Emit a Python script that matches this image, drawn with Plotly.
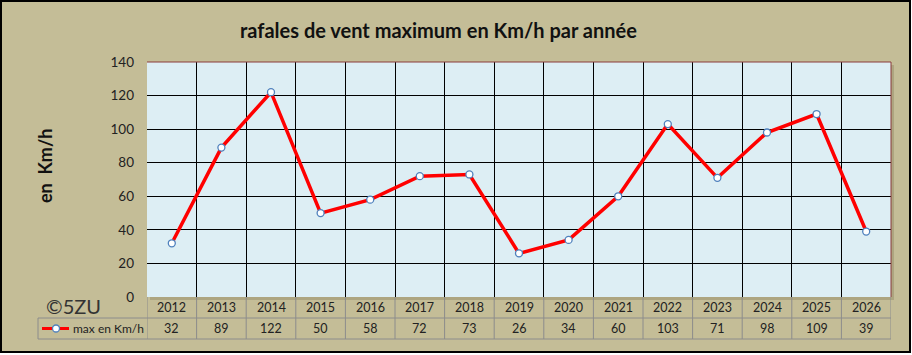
import plotly.graph_objects as go

years = ["2012", "2013", "2014", "2015", "2016", "2017", "2018", "2019",
         "2020", "2021", "2022", "2023", "2024", "2025", "2026"]
values = [32, 89, 122, 50, 58, 72, 73, 26, 34, 60, 103, 71, 98, 109, 39]
y_ticks = [0, 20, 40, 60, 80, 100, 120, 140]
title = "rafales de vent maximum en Km/h par année"
y_title = "en  Km/h"
series_name = "max en Km/h"

W, H = 912, 355
TAN = "#C4BD97"
PLOT_BG = "#DDEEF4"
GRID_TBL = "#8C8C8C"

# observed paper mapping in renderer: paper y in [0,1] -> pixels [347, 8]
PTOP, PH = 8, 339

x0px, x1px = 147, 891
ytop, ybot = 62, 297
row1, row2 = 318, 339


def px_x(p):
    return p / W


def px_y(p):
    return 1 - (p - PTOP) / PH


idx = list(range(len(years)))

fig = go.Figure()
fig.add_trace(go.Scatter(
    x=idx, y=values, mode="lines+markers", name=series_name,
    line=dict(color="#FF0000", width=3.5),
    marker=dict(symbol="circle", size=7, color="white",
                line=dict(color="#4F81BD", width=1.3)),
    showlegend=False, hoverinfo="skip",
))

shapes = []
# outer frame
shapes.append(dict(type="rect", xref="paper", yref="paper",
                   x0=px_x(1), x1=px_x(910), y0=px_y(352), y1=px_y(1),
                   fillcolor=TAN, line=dict(color="black", width=2), layer="below"))
# plot area shadow
shapes.append(dict(type="rect", xref="paper", yref="paper",
                   x0=px_x(x0px + 3), x1=px_x(x1px + 3), y0=px_y(ybot + 3), y1=px_y(ytop + 3),
                   fillcolor="rgba(90,80,50,0.22)", line=dict(width=0), layer="below"))
# plot background
shapes.append(dict(type="rect", xref="paper", yref="paper",
                   x0=px_x(x0px), x1=px_x(x1px), y0=px_y(ybot), y1=px_y(ytop),
                   fillcolor=PLOT_BG, line=dict(width=0), layer="below"))
# plot border top/right dark red
shapes.append(dict(type="line", xref="paper", yref="paper",
                   x0=px_x(x0px), x1=px_x(x1px), y0=px_y(ytop), y1=px_y(ytop),
                   line=dict(color="#8B3A3A", width=1)))
shapes.append(dict(type="line", xref="paper", yref="paper",
                   x0=px_x(x1px), x1=px_x(x1px), y0=px_y(ybot), y1=px_y(ytop),
                   line=dict(color="#8B3A3A", width=1)))

# data table lines
for k in range(len(years) + 1):
    xb = k - 0.5
    shapes.append(dict(type="line", xref="x", yref="paper",
                       x0=xb, x1=xb, y0=px_y(row2), y1=px_y(ybot),
                       line=dict(color=GRID_TBL, width=1)))
for yy in (row1, row2):
    shapes.append(dict(type="line", xref="paper", yref="paper",
                       x0=px_x(38), x1=px_x(x1px), y0=px_y(yy), y1=px_y(yy),
                       line=dict(color=GRID_TBL, width=1)))
shapes.append(dict(type="line", xref="paper", yref="paper",
                   x0=px_x(38), x1=px_x(38), y0=px_y(row2), y1=px_y(row1),
                   line=dict(color=GRID_TBL, width=1)))
# legend key
shapes.append(dict(type="line", xref="paper", yref="paper",
                   x0=px_x(42), x1=px_x(69), y0=px_y(328.5), y1=px_y(328.5),
                   line=dict(color="#FF0000", width=3)))
shapes.append(dict(type="circle", xref="paper", yref="paper",
                   x0=px_x(52.5), x1=px_x(59.5), y0=px_y(332), y1=px_y(325),
                   fillcolor="white", line=dict(color="#4F81BD", width=1.3)))

annotations = []
FONT = "Lato"
TXT = "#222222"
for i, (yr, v) in enumerate(zip(years, values)):
    annotations.append(dict(x=i, y=px_y(307.5), xref="x", yref="paper",
                            text=yr, showarrow=False,
                            font=dict(family=FONT, size=12.5, color=TXT),
                            xanchor="center", yanchor="middle"))
    annotations.append(dict(x=i, y=px_y(328.5), xref="x", yref="paper",
                            text=str(v), showarrow=False,
                            font=dict(family=FONT, size=12.5, color=TXT),
                            xanchor="center", yanchor="middle"))
annotations.append(dict(x=px_x(71), y=px_y(328.5), xref="paper", yref="paper",
                        text=series_name, showarrow=False,
                        font=dict(family=FONT, size=12, color=TXT),
                        xanchor="left", yanchor="middle"))
annotations.append(dict(x=px_x(438), y=px_y(30), xref="paper", yref="paper",
                        text="<b>" + title + "</b>", showarrow=False,
                        font=dict(family=FONT, size=20, color="#111111"),
                        xanchor="center", yanchor="middle"))
annotations.append(dict(x=px_x(45), y=px_y(166), xref="paper", yref="paper",
                        text="<b>" + y_title + "</b>", showarrow=False, textangle=-90,
                        font=dict(family=FONT, size=18, color="#111111"),
                        xanchor="center", yanchor="middle"))
annotations.append(dict(x=px_x(73), y=px_y(306), xref="paper", yref="paper",
                        text="©5ZU", showarrow=False,
                        font=dict(family=FONT, size=20, color="#333333"),
                        xanchor="center", yanchor="middle"))

fig.update_layout(
    width=W, height=H,
    margin=dict(l=0, r=0, t=0, b=0),
    paper_bgcolor="white",
    plot_bgcolor="rgba(0,0,0,0)",
    shapes=shapes,
    annotations=annotations,
    xaxis=dict(domain=[px_x(x0px), px_x(x1px)], range=[-0.5, len(years) - 0.5],
               tick0=-0.5, dtick=1, showgrid=True, gridcolor="black", gridwidth=1,
               showticklabels=False, zeroline=False, showline=False, ticks=""),
    yaxis=dict(domain=[px_y(ybot), px_y(ytop)], range=[0, 140],
               tickvals=y_ticks, ticktext=[str(t) for t in y_ticks],
               showgrid=True, gridcolor="black", gridwidth=1, zeroline=False,
               showline=False, ticks="", ticklabelstandoff=12,
               tickfont=dict(family=FONT, size=13.5, color=TXT)),
    showlegend=False,
)

fig.write_html("out.html")
